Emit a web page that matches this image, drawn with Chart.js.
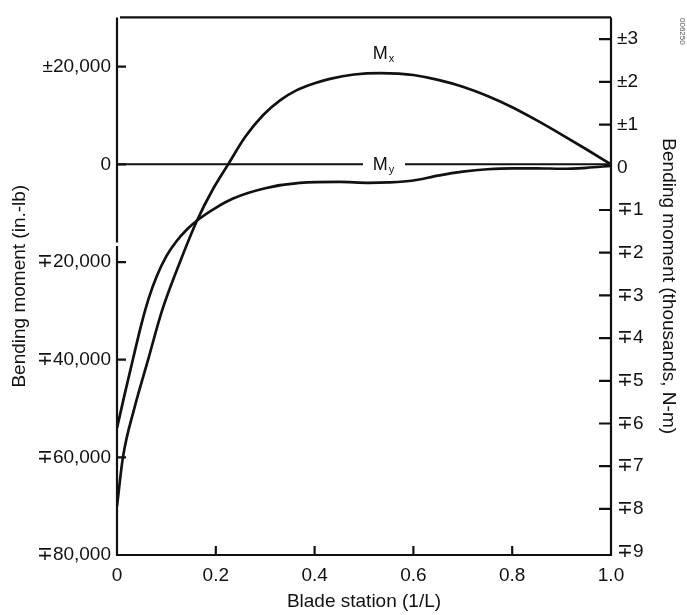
<!DOCTYPE html>
<html><head><meta charset="utf-8">
<script src="https://cdn.jsdelivr.net/npm/chart.js@4/dist/chart.umd.min.js"></script>
<style>html,body{margin:0;padding:0;background:#fff;overflow:hidden;}#wrap{width:687px;height:615px;}</style>
</head><body><div id="wrap"><canvas id="c" width="687" height="615"></canvas></div>
<script>
// Blade station (1/L) for the Mx curve
const stationMx = [0, 0.012, 0.035, 0.063, 0.091, 0.1275, 0.162, 0.193, 0.225, 0.26, 0.296, 0.33, 0.364, 0.4, 0.431, 0.48, 0.532, 0.57, 0.6, 0.65, 0.7, 0.75, 0.8, 0.85, 0.9, 0.95, 1.0];
// Mx bending moment (in.-lb)
const momentMx = [-70000, -60000, -50000, -40000, -30000, -20000, -11500, -5300, 0, 5700, 10100, 13100, 15200, 16600, 17500, 18400, 18700, 18600, 18300, 17300, 15900, 14000, 11700, 9000, 6100, 3100, 0];
// Blade station (1/L) for the My curve
const stationMy = [0, 0.015, 0.032, 0.05, 0.065, 0.08, 0.1, 0.12, 0.14, 0.162, 0.2, 0.235, 0.3, 0.37, 0.45, 0.51, 0.55, 0.6, 0.65, 0.7, 0.75, 0.8, 0.85, 0.9, 0.95, 1.0];
// My bending moment (in.-lb)
const momentMy = [-54000, -47300, -40000, -32500, -27200, -23000, -18800, -15800, -13500, -11500, -8900, -7000, -4900, -3800, -3600, -3800, -3700, -3300, -2300, -1500, -1000, -800, -800, -900, -700, -300];
// zero reference line (gap where the M_y label sits)
const zeroStations = [0, 0.498, 0.54, 0.583, 1.0];
const zeroValues = [0, 0, null, 0, 0];
const xTickValues = [0, 0.2, 0.4, 0.6, 0.8, 1.0];
const leftTickValues = [20000, 0, -20000, -40000, -60000, -80000];
const rightTickValues = [3, 2, 1, 0, -1, -2, -3, -4, -5, -6, -7, -8, -9];
const curveLabels = ['M', 'x', 'M', 'y'];

const toXY = (xs, ys) => xs.map((x, i) => ({x: x, y: ys[i]}));
const FONT = "'Liberation Sans', Arial, Helvetica, sans-serif";

function pm(v, txt) { return v > 0 ? '\u00B1' + txt : (v < 0 ? '\u2213' + txt : '0'); }

const framePlugin = {
  id: 'frame',
  afterDraw(chart) {
    const {ctx, chartArea: a, scales} = chart;
    const y = scales.y, y2 = scales.y2, x = scales.x;
    ctx.save();
    ctx.strokeStyle = '#111';
    ctx.lineWidth = 2.2;
    ctx.lineCap = 'butt';
    ctx.beginPath();
    ctx.moveTo(a.left + 3, a.top); ctx.lineTo(a.right, a.top);
    ctx.moveTo(a.right, a.top); ctx.lineTo(a.right, a.bottom + 1);
    ctx.moveTo(a.left - 1, a.bottom); ctx.lineTo(a.right + 1, a.bottom);
    const b1 = y.getPixelForValue(-16000), b2 = y.getPixelForValue(-16700);
    ctx.moveTo(a.left, a.top); ctx.lineTo(a.left, b1);
    ctx.moveTo(a.left, b2); ctx.lineTo(a.left, a.bottom);
    leftTickValues.forEach(v => { const p = y.getPixelForValue(v); ctx.moveTo(a.left, p); ctx.lineTo(a.left + 9, p); });
    rightTickValues.forEach(v => { if (v === 0 || v === -9) return; const p = y2.getPixelForValue(v); ctx.moveTo(a.right - 12, p); ctx.lineTo(a.right, p); });
    xTickValues.forEach(v => { if (v === 0 || v === 1) return; const p = x.getPixelForValue(v); ctx.moveTo(p, a.bottom); ctx.lineTo(p, a.bottom - 9); });
    ctx.stroke();

    ctx.fillStyle = '#111';
    ctx.textBaseline = 'alphabetic';
    ctx.textAlign = 'left';
    const drawSub = (main, sub, xv, yv) => {
      const px = x.getPixelForValue(xv), py = y.getPixelForValue(yv);
      ctx.font = '18px ' + FONT;
      const w = ctx.measureText(main).width;
      ctx.fillText(main, px - 9, py);
      ctx.font = '11px ' + FONT;
      ctx.fillText(sub, px - 9 + w + 1, py + 3);
    };
    drawSub(curveLabels[0], curveLabels[1], 0.536, 21500);
    drawSub(curveLabels[2], curveLabels[3], 0.536, -1200);

    ctx.save();
    ctx.translate(680, 18);
    ctx.rotate(Math.PI / 2);
    ctx.font = '8px ' + FONT;
    ctx.fillStyle = '#555';
    ctx.fillText('006250', 0, 0);
    ctx.restore();
    ctx.restore();
  }
};

const tickFont = {family: FONT, size: 19};
new Chart(document.getElementById('c'), {
  type: 'line',
  data: {
    datasets: [
      {label: 'zero', data: toXY(zeroStations, zeroValues), borderColor: '#111', borderWidth: 2, pointRadius: 0, spanGaps: false, yAxisID: 'y'},
      {label: 'Mx', data: toXY(stationMx, momentMx), borderColor: '#111', borderWidth: 2.7, pointRadius: 0, cubicInterpolationMode: 'monotone', yAxisID: 'y'},
      {label: 'My', data: toXY(stationMy, momentMy), borderColor: '#111', borderWidth: 2.7, pointRadius: 0, cubicInterpolationMode: 'monotone', yAxisID: 'y'}
    ]
  },
  options: {
    responsive: false,
    animation: false,
    devicePixelRatio: 1,
    layout: {padding: {top: 10, left: 0, right: 0, bottom: 0}},
    plugins: {legend: {display: false}, tooltip: {enabled: false}},
    scales: {
      x: {
        type: 'linear', min: 0, max: 1,
        afterBuildTicks: s => { s.ticks = xTickValues.map(v => ({value: v})); },
        afterFit: s => { s.height = 60; },
        grid: {display: false, drawTicks: false},
        border: {display: false},
        ticks: {color: '#111', font: tickFont, padding: 9, maxRotation: 0, autoSkip: false,
          callback: v => v === 0 ? '0' : v.toFixed(1)},
        title: {display: true, text: 'Blade station (1/L)', color: '#111', font: tickFont, padding: {top: 0, bottom: 2}}
      },
      y: {
        type: 'linear', position: 'left', min: -80000, max: 30100,
        afterBuildTicks: s => { s.ticks = leftTickValues.map(v => ({value: v})); },
        afterFit: s => { s.width = 117; },
        grid: {display: false, drawTicks: false},
        border: {display: false},
        ticks: {color: '#111', font: tickFont, padding: 6, autoSkip: false,
          callback: v => pm(v, Math.abs(v).toLocaleString('en-US'))},
        title: {display: true, text: 'Bending moment (in.-lb)', color: '#111', font: tickFont, padding: {top: 8, bottom: 0}}
      },
      y2: {
        type: 'linear', position: 'right', min: -9.08, max: 3.51,
        afterBuildTicks: s => { s.ticks = rightTickValues.map(v => ({value: v})); },
        afterFit: s => { s.width = 76; },
        grid: {display: false, drawTicks: false},
        border: {display: false},
        ticks: {color: '#111', font: tickFont, padding: 6, autoSkip: false,
          callback: v => pm(v, String(Math.abs(v)))},
        title: {display: true, text: 'Bending moment (thousands, N-m)', color: '#111', font: tickFont, padding: {top: 7, bottom: 0}}
      }
    }
  },
  plugins: [framePlugin]
});
</script>
</body></html>
